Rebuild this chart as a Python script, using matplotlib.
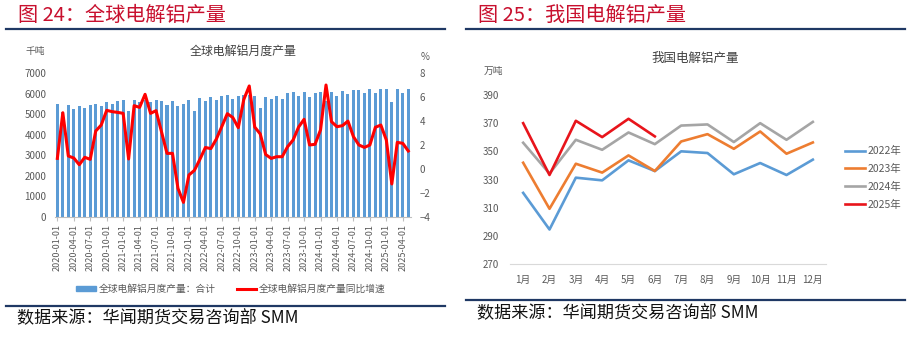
"""Two panels: global and China primary aluminium output."""

import matplotlib

matplotlib.use("Agg")
import matplotlib.pyplot as plt
import numpy as np
import pandas as pd
from matplotlib.lines import Line2D
from matplotlib.patches import Patch

plt.rcParams["font.family"] = ["Noto Sans CJK SC", "DejaVu Sans"]

W, H = 911, 337

# global monthly output, 2020-01 .. 2025-05 (thousand t)
global_output = [
    5490, 5100, 5455, 5260, 5405, 5290, 5455, 5520, 5390, 5580, 5490, 5665,
    5715, 5160, 5715, 5600, 5715, 5580, 5680, 5650, 5470, 5665, 5405, 5503,
    5699, 5176, 5780, 5665, 5830, 5699, 5910, 5940, 5750, 5890, 5950, 5960,
    5890, 5300, 5830, 5750, 5910, 5760, 6050, 6070, 5890, 6100, 5830, 6020,
    6070, 5650, 6070, 5890, 6140, 5990, 6190, 6190, 6020, 6230, 6060, 6230,
    6220, 5620, 6220, 6020, 6220,
]
# year-on-year growth (%)
global_yoy = [
    0.88, 4.70, 1.08, 0.91, 0.35, 0.97, 0.80, 3.17, 3.67, 4.90, 4.79, 4.73,
    4.65, 0.83, 5.29, 5.15, 6.24, 4.65, 4.87, 3.10, 1.30, 1.30, -1.63, -2.80,
    -0.51, -0.12, 0.80, 1.79, 1.70, 2.50, 3.55, 4.62, 4.30, 3.45, 5.80, 6.94,
    3.50, 2.93, 1.20, 0.88, 1.02, 1.02, 1.86, 2.42, 3.50, 4.15, 2.00, 2.06,
    3.26, 7.02, 3.95, 3.53, 3.62, 4.00, 2.70, 2.00, 1.80, 2.00, 3.48, 3.67,
    2.42, -1.26, 2.22, 2.14, 1.50,
]
global_months = pd.date_range("2020-01-01", periods=len(global_output), freq="MS")

# China monthly output (10k t)
cn_months = ["1月", "2月", "3月", "4月", "5月", "6月", "7月", "8月", "9月", "10月", "11月", "12月"]
cn_2022 = [320.5, 294.5, 331.3, 329.4, 343.6, 336.0, 350.0, 348.8, 333.7, 341.7, 333.2, 344.1]
cn_2023 = [341.9, 309.2, 341.2, 334.9, 347.1, 336.0, 357.0, 362.2, 351.8, 364.1, 348.3, 356.3]
cn_2024 = [356.1, 334.2, 358.2, 351.1, 363.4, 355.1, 368.3, 369.1, 356.6, 370.0, 358.2, 370.9]
cn_2025 = [370.0, 333.2, 371.7, 360.1, 373.1, 360.6]
cn_labels = ["2022年", "2023年", "2024年", "2025年"]

NAVY = "#1F3864"
TITLE_RED = "#C8102E"
GREY_TXT = "#595959"


def fx(x):
    return x / W


def fy(y):
    return 1 - y / H


def rect(x0, y0, x1, y1):
    """Pixel box (top-left origin) -> figure axes rect."""
    return [fx(x0), fy(y1), fx(x1) - fx(x0), fy(y0) - fy(y1)]


def hline(fig, x0, x1, y):
    fig.add_artist(Line2D([fx(x0), fx(x1)], [fy(y), fy(y)], color=NAVY, lw=1.6,
                          transform=fig.transFigure))


def decorate(fig, x0, x1, title, src_y, line_y):
    fig.text(fx(x0 + 12), fy(15), title, color=TITLE_RED, fontsize=14.5,
             va="center", ha="left")
    hline(fig, x0, x1, 29)
    hline(fig, x0, x1, line_y)
    fig.text(fx(x0 + 11), fy(src_y), "数据来源：华闻期货交易咨询部 SMM", fontsize=12.3,
             va="center", ha="left", color="#111111")


def plot_global(fig):
    ax = fig.add_axes(rect(54.6, 73.3, 411, 216.7))
    x = np.arange(len(global_output))
    ax.bar(x, global_output, width=0.55, color="#5B9BD5", zorder=2)
    ax.set_ylim(0, 7000)
    ax.set_yticks(np.arange(0, 7001, 1000))
    ax.set_xlim(-0.5, len(x) - 0.5)
    ticks = x[::3]
    ax.set_xticks(ticks)
    ax.set_xticklabels([global_months[i].strftime("%Y-%m-%d") for i in ticks],
                       rotation=90, fontsize=6.5, color=GREY_TXT)
    ax.tick_params(axis="y", length=0, labelsize=7, labelcolor=GREY_TXT, pad=6)
    ax.tick_params(axis="x", length=3, color="#BFBFBF", pad=2)
    for s in ["top", "right", "left"]:
        ax.spines[s].set_visible(False)
    ax.spines["bottom"].set_color("#BFBFBF")

    ax2 = ax.twinx()
    ax2.plot(x, global_yoy, color="#FF0000", lw=2.2, zorder=3)
    ax2.set_ylim(-4, 8)
    ax2.set_yticks(np.arange(-4, 9, 2))
    ax2.tick_params(axis="y", length=0, labelsize=7, labelcolor=GREY_TXT, pad=6)
    for s in ["top", "right", "left", "bottom"]:
        ax2.spines[s].set_visible(False)

    fig.text(fx(243), fy(51), "全球电解铝月度产量", fontsize=8.6, color="#404040",
             ha="center", va="center")
    fig.text(fx(25), fy(51), "千吨", fontsize=7, color=GREY_TXT, va="center")
    fig.text(fx(421), fy(57), "%", fontsize=7, color=GREY_TXT, va="center")

    handles = [Patch(color="#5B9BD5"), Line2D([], [], color="#FF0000", lw=2.2)]
    fig.legend(handles, ["全球电解铝月度产量：合计", "全球电解铝月度产量同比增速"],
               loc="center", bbox_to_anchor=(fx(231), fy(289)), ncol=2, frameon=False,
               fontsize=7, labelcolor=GREY_TXT, handlelength=2.0, handleheight=0.5,
               handletextpad=0.3, columnspacing=2.2, borderpad=0)


def plot_china(fig):
    ax = fig.add_axes(rect(510, 95, 826, 264))
    m = np.arange(1, 13)
    series = [cn_2022, cn_2023, cn_2024, cn_2025]
    colors = ["#5B9BD5", "#ED7D31", "#A5A5A5", "#E8141B"]
    for vals, c, lab in zip(series, colors, cn_labels):
        ax.plot(m[:len(vals)], vals, color=c, lw=1.9, label=lab)
    ax.set_xlim(0.5, 12.5)
    ax.set_ylim(270, 390)
    ax.set_yticks(np.arange(270, 391, 20))
    ax.set_xticks(m)
    ax.set_xticklabels(cn_months)
    ax.tick_params(axis="both", length=0, labelsize=7, labelcolor=GREY_TXT)
    ax.tick_params(axis="y", pad=8)
    ax.tick_params(axis="x", pad=8)
    for s in ["top", "right", "left"]:
        ax.spines[s].set_visible(False)
    ax.spines["bottom"].set_color("#D9D9D9")

    fig.text(fx(695), fy(58), "我国电解铝产量", fontsize=9, color="#404040",
             ha="center", va="center")
    fig.text(fx(484), fy(71), "万吨", fontsize=7, color=GREY_TXT, va="center")
    ax.legend(loc="center left", bbox_to_anchor=(fx(840), fy(178)),
              bbox_transform=fig.transFigure, frameon=False, fontsize=7.5,
              labelcolor=GREY_TXT, handlelength=1.9, handletextpad=0.2,
              labelspacing=0.75, borderpad=0)


if __name__ == "__main__":
    fig = plt.figure(figsize=(W / 100, H / 100), dpi=100)
    decorate(fig, 6, 445, "图 24：全球电解铝产量", 318, 306)
    decorate(fig, 466, 905, "图 25：我国电解铝产量", 313, 300)
    plot_global(fig)
    plot_china(fig)
    fig.savefig("out.png", dpi=100)
